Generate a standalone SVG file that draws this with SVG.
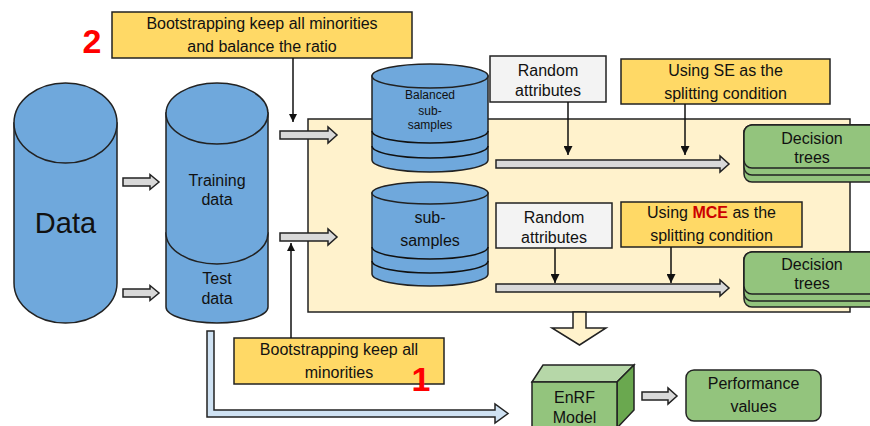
<svg xmlns="http://www.w3.org/2000/svg" width="870" height="426" viewBox="0 0 870 426">
<defs>
<style>
text{font-family:"Liberation Sans",Arial,sans-serif;fill:#111;text-anchor:middle;dominant-baseline:central}
.cyl{fill:#6fa8dc;stroke:#222;stroke-width:1.5}
.yel{fill:#ffd966;stroke:#222;stroke-width:1.5}
.gry{fill:#f3f3f3;stroke:#222;stroke-width:1.5}
.grn{fill:#93c47d;stroke:#222;stroke-width:1.5}
.blk{fill:#d9d9d9;stroke:#222;stroke-width:1.5}
.ln{fill:none;stroke:#111;stroke-width:1.5}
.t15{font-size:16px}
.t11{font-size:12px}
.red{font-size:34px;font-weight:bold;fill:#ff0000}
</style>
<marker id="ah" viewBox="0 0 10 10" refX="10" refY="5" markerWidth="8" markerHeight="8" markerUnits="userSpaceOnUse" orient="auto">
<path d="M0,0 L10,5 L0,10 Z" fill="#111"/>
</marker>
<marker id="ah2" viewBox="0 0 10 10" refX="10" refY="5" markerWidth="9" markerHeight="9" orient="auto" markerUnits="userSpaceOnUse">
<path d="M0,0 L10,5 L0,10 Z" fill="#111"/>
</marker>
</defs>
<rect width="870" height="426" fill="#ffffff"/>

<g id="panel">
<rect x="308" y="119" width="542" height="193" fill="#fff2cc" stroke="#222" stroke-width="1.5"/>
</g>

<g id="data">
<path class="cyl" d="M14,123 L14,283 A51.5,40 0 0 0 117,283 L117,123 Z"/>
<ellipse class="cyl" cx="65.5" cy="123" rx="51.5" ry="40"/>
<text x="65.5" y="223" style="font-size:29px">Data</text>
</g>

<g id="test-data">
<path class="cyl" d="M166,233 L166,307 A51,16 0 0 0 268,307 L268,233 Z"/>
<text class="t15" x="217" y="278">Test</text>
<text class="t15" x="217" y="298">data</text>
</g>

<g id="training-data">
<path class="cyl" d="M166,113 L166,233 A51,31 0 0 0 268,233 L268,113 Z"/>
<ellipse class="cyl" cx="217" cy="113.5" rx="51" ry="30.5"/>
<text class="t15" x="217" y="180">Training</text>
<text class="t15" x="217" y="199">data</text>
</g>

<g id="balanced-subsamples">
<path class="cyl" d="M372,76 L372,160 A58,12 0 0 0 488,160 L488,76 Z"/>
<path class="ln" d="M372,131 A58,12 0 0 0 488,131 M372,146 A58,12 0 0 0 488,146"/>
<ellipse class="cyl" cx="430" cy="76" rx="58" ry="12"/>
<text class="t11" x="430" y="95">Balanced</text>
<text class="t11" x="430" y="111">sub-</text>
<text class="t11" x="430" y="125">samples</text>
</g>

<g id="subsamples">
<path class="cyl" d="M372,193 L372,274 A58,12 0 0 0 488,274 L488,193 Z"/>
<path class="ln" d="M372,247 A58,12 0 0 0 488,247 M372,261 A58,12 0 0 0 488,261"/>
<ellipse class="cyl" cx="430" cy="193" rx="58" ry="11"/>
<text class="t15" x="430" y="217">sub-</text>
<text class="t15" x="430" y="240">samples</text>
</g>

<g id="box-top">
<rect class="yel" x="112" y="12" width="300" height="46"/>
<text class="t15" x="262" y="23">Bootstrapping keep all minorities</text>
<text class="t15" x="262" y="46">and balance the ratio</text>
</g>
<text class="red" x="92" y="41">2</text>

<g id="box-bottom">
<rect class="yel" x="234" y="338" width="210" height="46"/>
<text class="t15" x="339" y="349">Bootstrapping keep all</text>
<text class="t15" x="339" y="372">minorities</text>
</g>
<text class="red" x="421" y="379">1</text>

<g id="random-1">
<rect class="gry" x="490" y="56" width="116" height="46"/>
<text class="t15" x="548" y="70">Random</text>
<text class="t15" x="548" y="90">attributes</text>
</g>

<g id="se-box">
<rect class="yel" x="621" y="59" width="209" height="45"/>
<text class="t15" x="725.5" y="70">Using SE as the</text>
<text class="t15" x="725.5" y="93">splitting condition</text>
</g>

<g id="random-2">
<rect class="gry" x="496" y="203" width="116" height="45"/>
<text class="t15" x="554" y="217">Random</text>
<text class="t15" x="554" y="237">attributes</text>
</g>

<g id="mce-box">
<rect class="yel" x="621" y="202" width="181" height="45"/>
<text class="t15" x="711.5" y="212">Using <tspan style="fill:#cc0000;font-weight:bold">MCE</tspan> as the</text>
<text class="t15" x="711.5" y="235">splitting condition</text>
</g>

<g id="trees-1">
<rect class="grn" x="744" y="125" width="140" height="57" rx="8"/>
<rect class="grn" x="744" y="125" width="140" height="50" rx="8"/>
<rect class="grn" x="744" y="125" width="140" height="43" rx="8"/>
<text class="t15" x="812" y="138">Decision</text>
<text class="t15" x="812" y="157">trees</text>
</g>

<g id="trees-2">
<rect class="grn" x="744" y="252" width="140" height="55" rx="8"/>
<rect class="grn" x="744" y="252" width="140" height="49" rx="8"/>
<rect class="grn" x="744" y="252" width="140" height="42" rx="8"/>
<text class="t15" x="812" y="264">Decision</text>
<text class="t15" x="812" y="283">trees</text>
</g>

<g id="enrf-model">
<polygon points="532,382 543,365 634,365 617,382" fill="#b6d7a8" stroke="#222" stroke-width="1.5"/>
<polygon points="617,382 634,365 634,410 617,428" fill="#6aa84f" stroke="#222" stroke-width="1.5"/>
<rect class="grn" x="532" y="382" width="85" height="48"/>
<text class="t15" x="574.5" y="397">EnRF</text>
<text class="t15" x="574.5" y="417">Model</text>
</g>

<g id="performance">
<rect class="grn" x="686" y="370" width="135" height="51" rx="8"/>
<text class="t15" x="753.5" y="383">Performance</text>
<text class="t15" x="753.5" y="406">values</text>
</g>

<g id="connectors">
<polygon class="blk" points="123,178 150,178 150,174.5 159,182 150,189.5 150,186 123,186"/>
<polygon class="blk" points="123,289 150,289 150,285.5 159,293 150,300.5 150,297 123,297"/>
<polygon class="blk" points="280,131 328,131 328,127 337,135 328,143 328,139 280,139"/>
<polygon class="blk" points="280,233 328,233 328,229 337,237 328,245 328,241 280,241"/>
<polygon class="blk" points="496,160 720,160 720,156 729,164 720,172 720,168 496,168"/>
<polygon class="blk" points="496,284 720,284 720,280 729,288 720,296 720,292 496,292"/>
<polygon class="blk" points="642,392 668,392 668,388 677,396 668,404 668,400 642,400"/>
<polygon points="573,312 586,312 586,328 606,328 579.5,345 552,328 573,328" fill="#fff2cc" stroke="#222" stroke-width="1.5"/>
<polygon points="207,331 214,331 214,410 495,410 495,404 508,413.5 495,423 495,417 207,417" fill="#cfe2f3" stroke="#222" stroke-width="1.5"/>
<line class="ln" x1="293" y1="58" x2="293" y2="122" marker-end="url(#ah)"/>
<line class="ln" x1="291" y1="338" x2="291" y2="243" marker-end="url(#ah)"/>
<line class="ln" x1="568" y1="102" x2="568" y2="155" marker-end="url(#ah2)"/>
<line class="ln" x1="685" y1="104" x2="685" y2="155" marker-end="url(#ah2)"/>
<line class="ln" x1="555" y1="248" x2="555" y2="283" marker-end="url(#ah2)"/>
<line class="ln" x1="671" y1="247" x2="671" y2="283" marker-end="url(#ah2)"/>
</g>
</svg>
